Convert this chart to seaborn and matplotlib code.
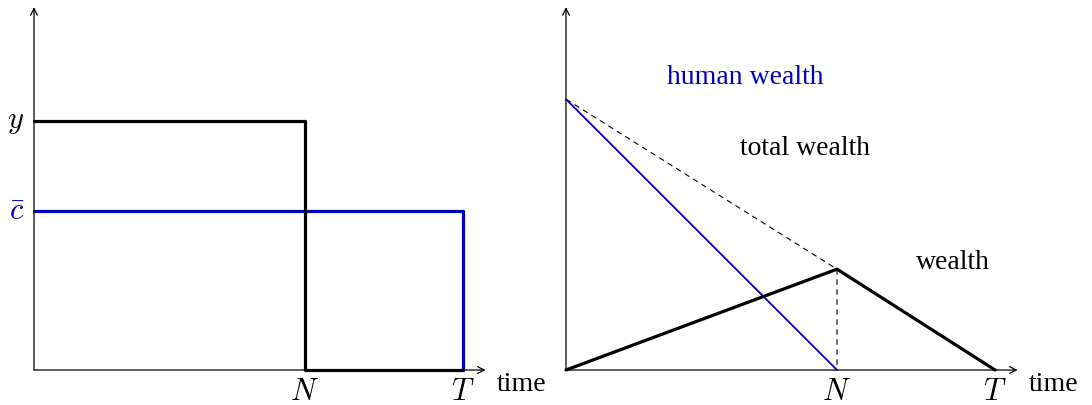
import matplotlib
matplotlib.use("Agg")
import matplotlib.pyplot as plt
import seaborn as sns
import pandas as pd

sns.set_style("white")
plt.rcParams["font.family"] = ["Liberation Serif", "DejaVu Serif"]
plt.rcParams["mathtext.fontset"] = "cm"
plt.rcParams["text.color"] = "black"

BLUE = "#0000B8"

# Left panel: income and consumption profiles
t_income = [0, 6, 6, 9.5]
income = [4.0, 4.0, 0, 0]
t_cons = [0, 9.5, 9.5]
consumption = [2.55, 2.55, 0]

# Right panel: wealth profiles
t_human = [0, 6]
human_wealth = [4.35, 0]
t_total = [0, 6, 6]
total_wealth = [4.35, 1.62, 0]
t_wealth = [0, 6, 9.5]
wealth = [0, 1.62, 0]

N, T = 6, 9.5
tick_labels = [r"$N$", r"$T$"]

W, H = 1092, 406
px_x = 271 / 6.0      # pixels per time unit
px_y = 62.25          # pixels per value unit

fig = plt.figure(figsize=(W / 100, H / 100), dpi=100)


def make_axes(left_px, width_px):
    ax = fig.add_axes([left_px / W, 35 / H, width_px / W, 366 / H])
    ax.set_xlim(0, width_px / px_x)
    ax.set_ylim(0, 366 / px_y)
    for s in ax.spines.values():
        s.set_visible(False)
    ax.set_xticks([])
    ax.set_yticks([])
    # axes with arrow heads
    arrow = dict(arrowstyle="->", lw=0.9, color="black", shrinkA=0, shrinkB=0,
                 mutation_scale=12)
    ax.annotate("", xy=(10.0, 0), xytext=(0, 0), arrowprops=arrow,
                annotation_clip=False)
    ax.annotate("", xy=(0, 5.83), xytext=(0, 0), arrowprops=arrow,
                annotation_clip=False)
    # time ticks
    for x, lab in zip([N, T], tick_labels):
        ax.text(x, -0.34, lab, ha="center", va="center", fontsize=22)
    ax.text(10.8, -0.22, "time", ha="center", va="center", fontsize=20)
    return ax


def draw(ax, t, v, **kw):
    df = pd.DataFrame({"t": t, "v": v})
    sns.lineplot(data=df, x="t", y="v", sort=False, estimator=None, ax=ax,
                 clip_on=False, **kw)
    ax.set_xlabel("")
    ax.set_ylabel("")


ax1 = make_axes(34, 470)
draw(ax1, t_cons, consumption, color=BLUE, lw=2.3)
draw(ax1, t_income, income, color="black", lw=2.3)
ax1.text(-0.40, income[0], r"$y$", ha="center", va="center", fontsize=22)
ax1.text(-0.38, consumption[0], r"$\bar{c}$", ha="center", va="center",
         fontsize=22, color=BLUE)

ax2 = make_axes(566, 480)
draw(ax2, t_total, total_wealth, color="black", lw=0.8,
     linestyle=(0, (5, 4)))
draw(ax2, t_human, human_wealth, color=BLUE, lw=1.3)
draw(ax2, t_wealth, wealth, color="black", lw=2.3)
ax2.text(3.96, 4.72, "human wealth", ha="center", va="center", fontsize=20,
         color=BLUE)
ax2.text(5.29, 3.58, "total wealth", ha="center", va="center", fontsize=20)
ax2.text(8.57, 1.75, "wealth", ha="center", va="center", fontsize=20)

fig.savefig("out.png", dpi=100)
